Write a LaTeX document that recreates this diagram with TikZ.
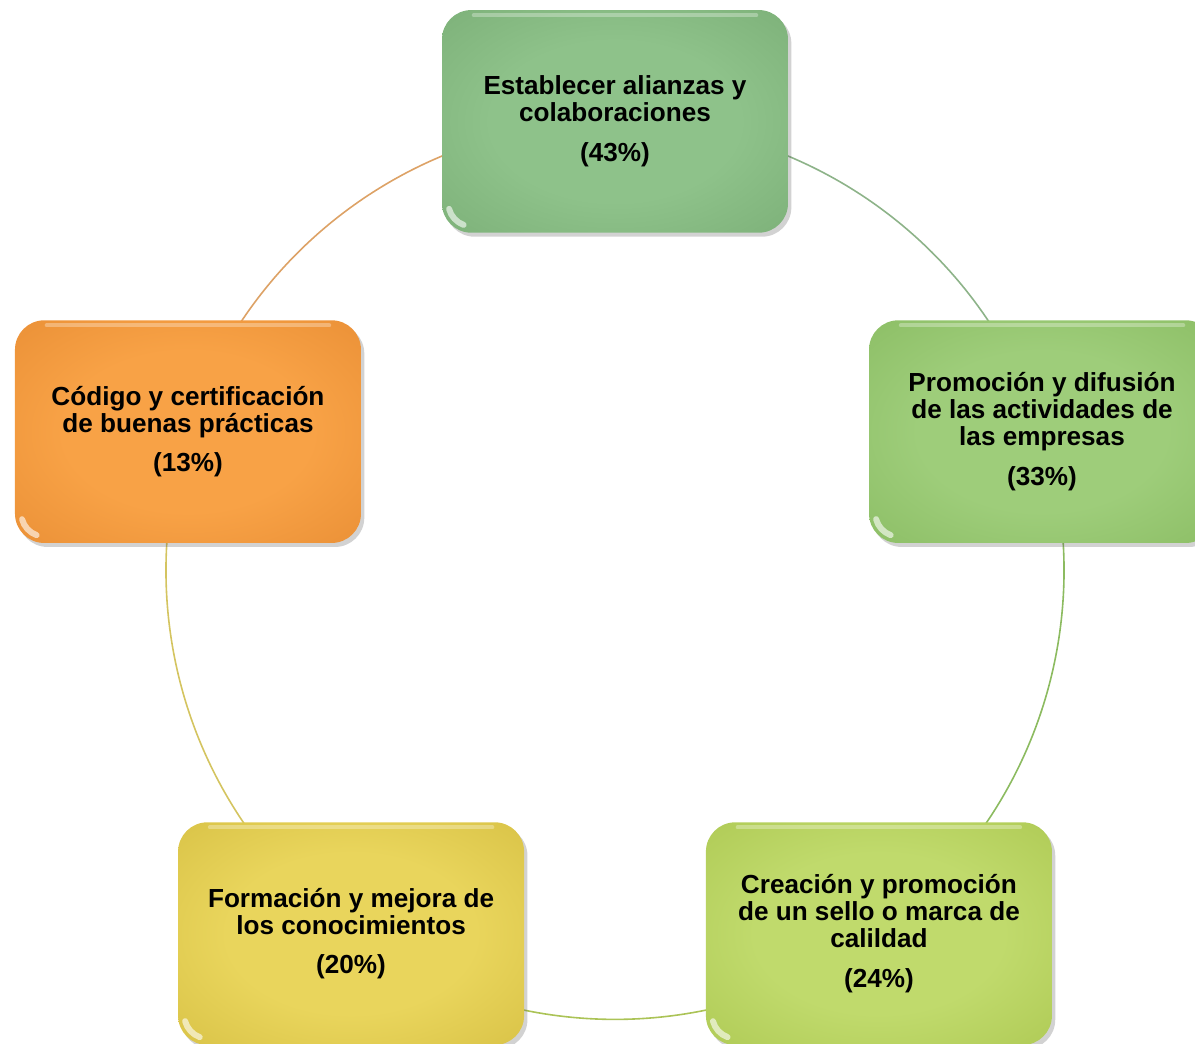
\documentclass[tikz,border=0pt]{standalone}
\usepackage{fontspec}
\setmainfont{Liberation Sans}
\usetikzlibrary{shadows}

% glow shading: light centre, darker rim; colours picked per box
\colorlet{glowin}{white}
\colorlet{glowout}{gray}
\pgfdeclareradialshading[glowin,glowout]{glow}{\pgfpoint{0bp}{0bp}}{%
  color(0bp)=(glowin); color(18bp)=(glowin);
  color(50bp)=(glowout); color(72bp)=(glowout!88!black)}

\definecolor{ringOrange}{HTML}{DDA266}
\definecolor{ringGreen}{HTML}{8DB389}
\definecolor{ringLeaf}{HTML}{8CBB60}
\definecolor{ringLime}{HTML}{ABC356}
\definecolor{ringGold}{HTML}{D4C460}

\tikzset{
  box/.style={shade, shading=glow, rounded corners=22pt,
    minimum width=259.5pt, minimum height=167pt, inner sep=0pt,
    align=center, font=\fontsize{19.6}{20.3}\selectfont\bfseries,
    drop shadow={shadow xshift=2.5pt, shadow yshift=-3pt, opacity=0.25, fill=black!70}},
  tone/.style 2 args={/utils/exec={\definecolor{glowin}{HTML}{#1}\definecolor{glowout}{HTML}{#2}}},
  ring/.style={line width=1.2pt},
  gloss/.style={white, opacity=0.6, line width=4.5pt, line cap=round},
  sheen/.style={white, opacity=0.3, line width=3pt, line cap=round}
}

\begin{document}
\begin{tikzpicture}[x=0.75pt, y=0.75pt]
\useasboundingbox (0,0) rectangle (1195,1044);
\clip (0,0) rectangle (1195,1044);

\coordinate (O) at (615,473.6);

% the five boxes sit on a circle of radius 449
\path
  ([shift={(90:449)}]O)  coordinate (pA)
  ([shift={(18:449)}]O)  coordinate (pB)
  ([shift={(306:449)}]O) coordinate (pC)
  ([shift={(234:449)}]O) coordinate (pD)
  ([shift={(162:449)}]O) coordinate (pE);

% ring segments, drawn behind the boxes
\draw[ring, ringOrange] (pA) arc[start angle=90,  end angle=162, radius=449];
\draw[ring, ringGreen]  (pA) arc[start angle=90,  end angle=18,  radius=449];
\draw[ring, ringLeaf]   (pB) arc[start angle=18,  end angle=-54, radius=449];
\draw[ring, ringLime]   (pC) arc[start angle=-54, end angle=-126, radius=449];
\draw[ring, ringGold]   (pD) arc[start angle=234, end angle=162, radius=449];

\node[box, tone={8EC28A}{70A46C}] (A) at (pA)
  {Establecer alianzas y\\colaboraciones\\[9.5pt](43\%)};
\node[box, tone={9ECD7A}{7FB356}] (B) at (pB)
  {Promoción y difusión\\de las actividades de\\las empresas\\[9.5pt](33\%)};
\node[box, tone={C0DA6C}{A3BF45}] (C) at (pC)
  {Creación y promoción\\de un sello o marca de\\calildad\\[9.5pt](24\%)};
\node[box, tone={E9D55C}{CDB537}] (D) at (pD)
  {Formación y mejora de\\los conocimientos\\[9.5pt](20\%)};
\node[box, tone={F8A246}{E0832B}] (E) at (pE)
  {Código y certificación\\de buenas prácticas\\[9.5pt](13\%)};

% glossy highlights on each box
\foreach \b in {A,B,C,D,E}{
  \draw[gloss] ([shift={(5.5pt,18pt)}]\b.south west)
      arc[start angle=195, end angle=250, radius=17.5pt];
  \draw[sheen] ([shift={(24pt,-4pt)}]\b.north west)
      -- ([shift={(-24pt,-4pt)}]\b.north east);
}
\end{tikzpicture}
\end{document}
